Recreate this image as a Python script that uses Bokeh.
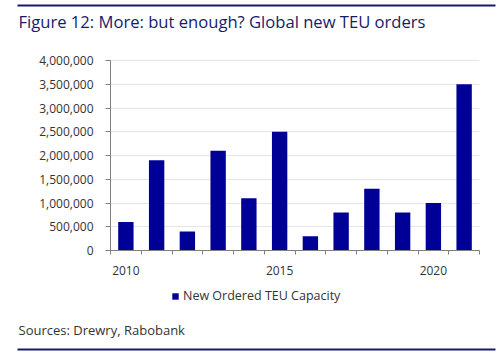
from bokeh.plotting import figure
from bokeh.models import (Range1d, FixedTicker, NumeralTickFormatter, Label, Legend,
                          LegendItem, BoxAnnotation, ColumnDataSource)
from bokeh.embed import file_html
from bokeh.resources import INLINE

years = [2010, 2011, 2012, 2013, 2014, 2015, 2016, 2017, 2018, 2019, 2020, 2021]
teu_orders = [600000, 1900000, 400000, 2100000, 1100000, 2500000,
              300000, 800000, 1300000, 800000, 1000000, 3500000]
series_name = "New Ordered TEU Capacity"
title_text = "Figure 12: More: but enough? Global new TEU orders"
source_text = "Sources: Drewry, Rabobank"
x_labels = {2010: "2010", 2015: "2015", 2020: "2020"}
y_ticks = [0, 500000, 1000000, 1500000, 2000000, 2500000, 3000000, 3500000, 4000000]
y_max = 4000000

FONT = "Open Sans"
NAVY = "#161b6c"
BAR = "#000096"
W, H = 500, 356

# layout in canvas pixels
plot_left, plot_right = 110, 479       # x of category area
plot_top, plot_bottom = 60, 250        # y of 4,000,000 and 0
step = (plot_right - plot_left) / len(years)
x0 = years[0] - 0.5
x_start = x0 - plot_left / step
x_end = x0 + (W - plot_left) / step
ppu = (plot_bottom - plot_top) / y_max
y_start = -(H - plot_bottom) / ppu
y_end = plot_bottom / ppu

p = figure(width=W, height=H, output_backend="svg", toolbar_location=None,
           x_range=Range1d(x_start, x_end), y_range=Range1d(y_start, y_end),
           min_border=0, min_border_left=0, min_border_right=0,
           min_border_top=0, min_border_bottom=0)
p.title.visible = False
p.outline_line_color = None
p.background_fill_color = "white"
p.border_fill_color = "white"

src = ColumnDataSource(dict(x=years, top=teu_orders))
r = p.vbar(x="x", top="top", width=0.5, source=src, fill_color=BAR, line_color=None)

# x axis
xa = p.xaxis[0]
xa.fixed_location = 0
xa.bounds = (years[0] - 0.5, years[-1] + 0.5)
xa.ticker = FixedTicker(ticks=years, minor_ticks=[y - 0.5 for y in years] + [years[-1] + 0.5])
xa.major_label_overrides = {y: x_labels.get(y, "") for y in years}
xa.major_tick_out = 0
xa.major_tick_in = 0
xa.minor_tick_out = 4
xa.minor_tick_in = 0
xa.minor_tick_line_color = "#808080"
xa.axis_line_color = "#808080"
xa.major_label_standoff = 11
xa.major_label_text_font = FONT
xa.major_label_text_font_size = "12px"
xa.major_label_text_color = "#333333"
p.xgrid.grid_line_color = None

# y axis
ya = p.yaxis[0]
ya.fixed_location = years[0] - 0.5
ya.bounds = (0, y_max)
ya.ticker = FixedTicker(ticks=y_ticks)
ya.formatter = NumeralTickFormatter(format="0,0")
ya.major_tick_out = 5
ya.major_tick_in = 0
ya.minor_tick_line_color = None
ya.major_tick_line_color = "#808080"
ya.axis_line_color = "#808080"
ya.major_label_text_font = FONT
ya.major_label_text_font_size = "12px"
ya.major_label_text_color = "#333333"
ya.major_label_standoff = 12
yg = p.ygrid[0]
yg.ticker = FixedTicker(ticks=y_ticks[1:])
yg.grid_line_color = "#e6e6e6"
yg.cross_bounds = (years[0] - 0.5, years[-1] + 0.5)

# legend
legend = Legend(items=[LegendItem(label=series_name, renderers=[r])],
                location=(171, 52), orientation="horizontal",
                glyph_width=8, glyph_height=8, label_height=12,
                label_text_font=FONT, label_text_font_size="12.5px",
                label_text_color="#333333", padding=0, margin=0,
                border_line_color=None, background_fill_alpha=0,
                label_standoff=4)
p.add_layout(legend, "center")

# title and source (screen units, measured from bottom-left)
p.add_layout(Label(x=18, y=H - 21, x_units="screen", y_units="screen", text=title_text,
                   text_font=FONT, text_font_size="16.6px",
                   text_color=NAVY, text_baseline="middle"))
p.add_layout(Label(x=18, y=H - 329, x_units="screen", y_units="screen", text=source_text,
                   text_font=FONT, text_font_size="13px", text_color="#333333",
                   text_baseline="middle"))

# rules
for yy in (5, 349):
    p.add_layout(BoxAnnotation(left=17, right=495, top=H - yy + 1, bottom=H - yy - 1,
                               left_units="screen", right_units="screen",
                               top_units="screen", bottom_units="screen",
                               fill_color=NAVY, fill_alpha=1, line_color=None))

open("out.html", "w").write(file_html(p, INLINE))
